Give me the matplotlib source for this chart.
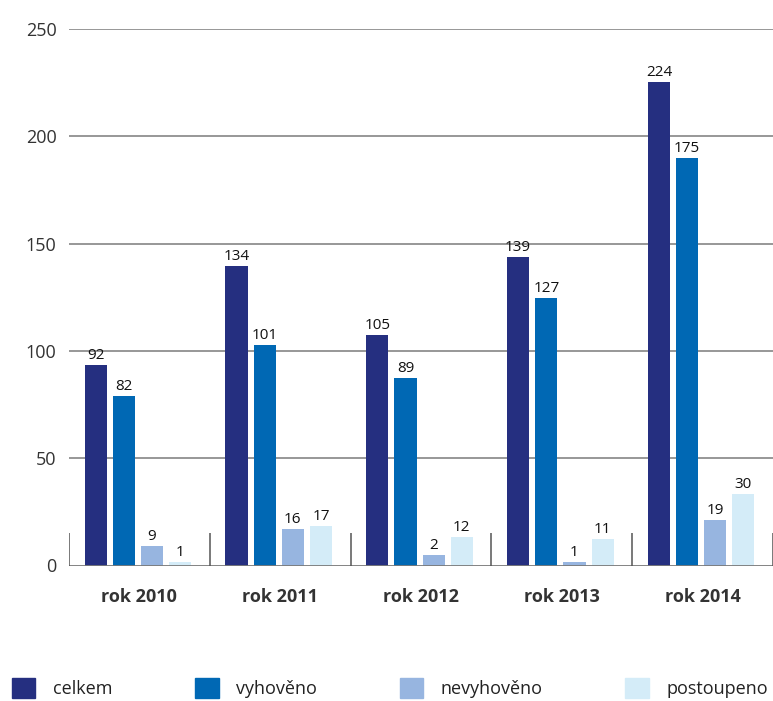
import numpy as np
import matplotlib.pyplot as plt
from matplotlib.patches import Patch

# ---------------- data ----------------
years = ['rok 2010', 'rok 2011', 'rok 2012', 'rok 2013', 'rok 2014']
series = ['celkem', 'vyhověno', 'nevyhověno', 'postoupeno']

# printed values above the bars
celkem = [92, 134, 105, 139, 224]
vyhoveno = [82, 101, 89, 127, 175]
nevyhoveno = [9, 16, 2, 1, 19]
postoupeno = [1, 17, 12, 11, 30]

# bar heights as drawn in the source (they do not match the labels exactly)
celkem_h = [93.4, 139.7, 107.4, 143.9, 225.3]
vyhoveno_h = [79.1, 102.7, 87.5, 124.8, 189.9]
nevyhoveno_h = [9.1, 17.0, 4.9, 1.6, 21.2]
postoupeno_h = [1.6, 18.5, 13.3, 12.3, 33.3]

colors = ['#252f80', '#0068b4', '#97b5e0', '#d4ecf8']
# --------------------------------------

plt.rcParams['font.family'] = ['Open Sans', 'DejaVu Sans']

fig = plt.figure(figsize=(7.73, 7.01), dpi=100)
ax = fig.add_axes([69 / 773, 135.5 / 701, 704 / 773, 536.5 / 701])

x = np.arange(len(years))
offsets = [0.19, 0.39, 0.59, 0.79]
width = 0.157
heights = [celkem_h, vyhoveno_h, nevyhoveno_h, postoupeno_h]
labels = [celkem, vyhoveno, nevyhoveno, postoupeno]

# grid lines behind bars
for yv in [50, 100, 150, 200, 250]:
    ax.axhline(yv, color='#7a7a7a', lw=1.1, zorder=0)
ax.axhline(0, color='#7a7a7a', lw=1.3, zorder=3)
ax.vlines(np.arange(len(years) + 1), 0, 15, color='#555555', lw=1.1, zorder=3)

for i in range(4):
    bars = ax.bar(x + offsets[i], heights[i], width, color=colors[i],
                  zorder=2, label=series[i])
    for b, v in zip(bars, labels[i]):
        ax.annotate(str(v), (b.get_x() + b.get_width() / 2, b.get_height()),
                    xytext=(0, 1.5), textcoords='offset points',
                    ha='center', va='bottom', fontsize=11, color='#111111')

ax.set_xlim(0, 5)
ax.set_ylim(0, 250)
ax.set_yticks([0, 50, 100, 150, 200, 250])
ax.tick_params(axis='y', length=0, pad=9, labelsize=13, labelcolor='#333333')
ax.set_xticks(x + 0.5)
ax.set_xticklabels(years, fontsize=13, fontweight='bold', color='#333333')
ax.tick_params(axis='x', length=0, pad=16)
for s in ax.spines.values():
    s.set_visible(False)

handles = [Patch(color=c, label=s) for c, s in zip(colors, series)]
leg = fig.legend(handles=handles, loc='center left', bbox_to_anchor=(12 / 773, 13 / 701),
                 ncol=4, frameon=False, fontsize=13, handlelength=1.3,
                 handleheight=1.3, handletextpad=0.95, columnspacing=4.6,
                 borderaxespad=0, borderpad=0)
for t in leg.get_texts():
    t.set_color('#222222')

fig.savefig('out.png', dpi=100)
